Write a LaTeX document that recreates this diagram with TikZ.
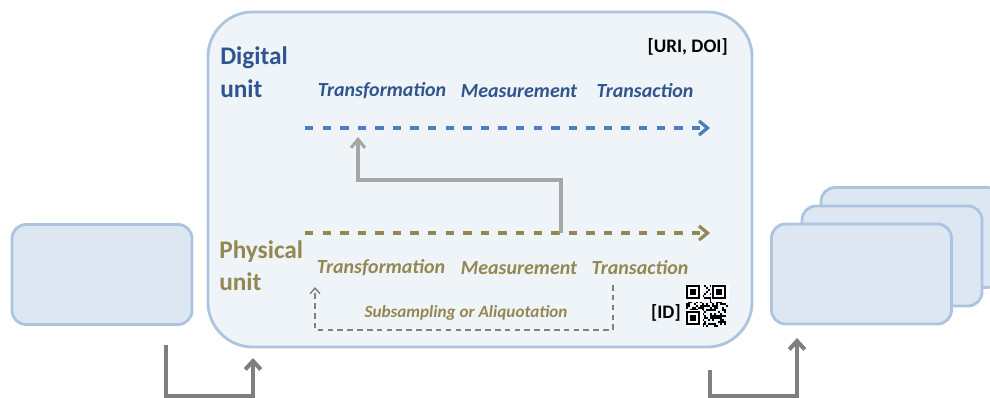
\documentclass[tikz,border=0pt]{standalone}
\usepackage{fontspec}
\setmainfont{Carlito}
\usetikzlibrary{
  calc,
  arrows.meta
}
\definecolor{boxline}{RGB}{172,196,224}
\definecolor{boxfill}{RGB}{221,231,242}
\definecolor{unitfill}{RGB}{239,244,248}
\definecolor{digital}{RGB}{47,85,143}
\definecolor{digiline}{RGB}{74,126,192}
\definecolor{physical}{RGB}{148,136,82}
\definecolor{linkgray}{RGB}{166,166,166}
\definecolor{flowgray}{RGB}{127,127,127}

\begin{document}
\begin{tikzpicture}[
  x=0.025cm,
  y=-0.025cm,
  unitbox/.style={
    draw=boxline,
    fill=unitfill,
    line width=2pt,
    rounded corners=32pt,
    minimum width=13.6cm,
    minimum height=8.375cm
  },
  smallbox/.style={
    draw=boxline,
    fill=boxfill,
    line width=2pt,
    rounded corners=10pt,
    minimum width=4.5cm,
    minimum height=2.5cm
  },
  unitname/.style={
    anchor=west,
    font=\fontsize{18}{20}\selectfont\bfseries,
    inner sep=0pt
  },
  stage/.style={
    font=\fontsize{14.2}{16}\selectfont\bfseries\itshape,
    inner sep=0pt
  },
  tag/.style={
    font=\fontsize{13.6}{15}\selectfont\bfseries,
    inner sep=0pt
  },
  timeline/.style={
    line width=2.3pt,
    dash pattern=on 6pt off 6.5pt
  },
  >={Straight Barb[length=6pt,width=10pt]}
]

\useasboundingbox (0,0) rectangle (990,398);
\clip (0,0) rectangle (990,398);

% Boxes
\node[smallbox] (source) at (102,274.5) {};
\node[smallbox] (out3) at (911,237.5) {};
\node[smallbox] (out2) at (892,256) {};
\node[smallbox] (out1) at (861.5,274) {};
\node[unitbox] (unit) at (480,179.5) {};

% Text
\node[unitname,digital] (dig1) at (220,58) {Digital};
\node[unitname,digital] (dig2) at (220,89) {unit};
\node[unitname,physical] (phy1) at (219,252) {Physical};
\node[unitname,physical] (phy2) at (219,282) {unit};
\node[stage,digital] (dtrf) at (382,91) {Transformation};
\node[stage,digital] (dmea) at (519,91) {Measurement};
\node[stage,digital] (dtra) at (645,91) {Transaction};
\node[stage,physical] (ptrf) at (381,268) {Transformation};
\node[stage,physical] (pmea) at (519,268) {Measurement};
\node[stage,physical] (ptra) at (640,268) {Transaction};
\node[tag,anchor=east] (uri) at (728,47) {[URI, DOI]};
\node[tag,anchor=east] (id) at (681,313) {[ID]};

% Coordinates
\coordinate (dstart) at (305,128);
\coordinate (dend) at (710,128);
\coordinate (pstart) at (305,233);
\coordinate (pend) at (710,233);
\coordinate (lfrom) at (561,233);
\coordinate (lto) at (358,137);
\coordinate (sfrom) at (613,285);
\coordinate (sto) at (315,287);
\coordinate (infrom) at (166,345);
\coordinate (into) at (253,358);
\coordinate (outfrom) at (710,370);
\coordinate (outto) at (797,338);

% Arrows 1
\draw[->,timeline,digiline] (dstart) -- (dend);
\draw[->,timeline,physical] (pstart) -- (pend);

% Arrows 2
\draw[->,linkgray,line width=2.2pt] (lfrom) -- ++(0,-53) -| (lto);
\draw[->,flowgray,line width=1pt,dash pattern=on 4pt off 3pt,
  >={Straight Barb[length=4pt,width=7pt]}]
  (sfrom) -- ++(0,45) -| (sto);
\node[physical,font=\fontsize{12.2}{14}\selectfont\bfseries\itshape]
  (subs) at (466,313) {Subsampling or Aliquotation};

% Arrows 3
\draw[->,flowgray,line width=2.9pt,>={Straight Barb[length=6pt,width=11pt]}]
  (infrom) -- ++(0,51) -| (into);
\draw[->,flowgray,line width=2.9pt,>={Straight Barb[length=6pt,width=11pt]}]
  (outfrom) -- ++(0,26) -| (outto);

% QR code
\begin{scope}[shift={(686,285)}]
  \pgfmathsetseed{11}
  \foreach \i in {0,...,20}{
    \foreach \j in {0,...,20}{
      \pgfmathrandominteger{\bit}{0}{1}
      \ifnum\bit=1 \fill (\i*2,\j*2) rectangle ++(2,2); \fi
    }
  }
  \foreach \fx/\fy in {0/0,26/0,0/26}{
    \fill[white] (\fx-1,\fy-1) rectangle ++(18,18);
    \fill (\fx,\fy) rectangle ++(14,14);
    \fill[white] (\fx+2,\fy+2) rectangle ++(10,10);
    \fill (\fx+4,\fy+4) rectangle ++(6,6);
  }
\end{scope}

\end{tikzpicture}
\end{document}
